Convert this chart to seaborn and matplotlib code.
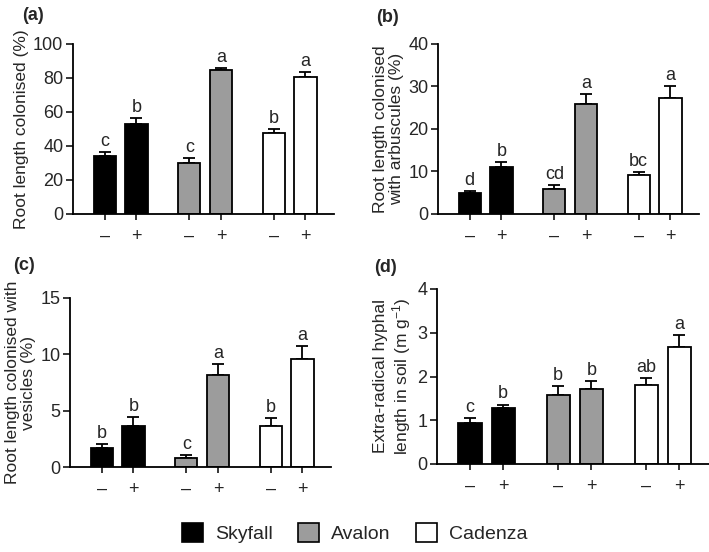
import numpy as np
import pandas as pd
import seaborn as sns
from matplotlib import pyplot as plt
from matplotlib.patches import Patch

# %%
# Data (means and upper end of error bar)
cultivars = ["Skyfall", "Skyfall", "Avalon", "Avalon", "Cadenza", "Cadenza"]
positions = [0, 1, 2.67, 3.67, 5.33, 6.33]
amf_labels = ["\u2013", "+", "\u2013", "+", "\u2013", "+"]
palette = {"Skyfall": "black", "Avalon": "#9c9c9c", "Cadenza": "white"}

colonised = [34.3, 52.7, 30.2, 84.5, 47.4, 80.4]
colonised_err = [2.0, 3.9, 2.9, 1.6, 2.6, 2.9]
colonised_sig = ["c", "b", "c", "a", "b", "a"]

arbuscules = [4.9, 11.0, 5.9, 25.9, 9.2, 27.2]
arbuscules_err = [0.6, 1.2, 1.0, 2.3, 0.7, 2.8]
arbuscules_sig = ["d", "b", "cd", "a", "bc", "a"]

vesicles = [1.65, 3.6, 0.8, 8.16, 3.68, 9.55]
vesicles_err = [0.41, 0.85, 0.3, 1.0, 0.68, 1.15]
vesicles_sig = ["b", "b", "c", "a", "b", "a"]

hyphae = [0.94, 1.27, 1.58, 1.72, 1.81, 2.67]
hyphae_err = [0.12, 0.09, 0.2, 0.17, 0.16, 0.27]
hyphae_sig = ["c", "b", "b", "b", "ab", "a"]

panels = [
    ("(a)", colonised, colonised_err, colonised_sig, 100, 20,
     "Root length colonised (%)"),
    ("(b)", arbuscules, arbuscules_err, arbuscules_sig, 40, 10,
     "Root length colonised\nwith arbuscules (%)"),
    ("(c)", vesicles, vesicles_err, vesicles_sig, 15, 5,
     "Root length colonised with\nvesicles (%)"),
    ("(d)", hyphae, hyphae_err, hyphae_sig, 4, 1,
     "Extra-radical hyphal\nlength in soil (m g$^{-1}$)"),
]

# %%
# Figure
sns.set_style("ticks")
plt.rcParams["font.family"] = ["Liberation Sans", "DejaVu Sans"]
plt.rcParams["mathtext.fontset"] = "custom"
plt.rcParams["mathtext.rm"] = "Liberation Sans"
plt.rcParams["mathtext.it"] = "Liberation Sans"

W, H = 709, 552
fig = plt.figure(figsize=(W / 100, H / 100), dpi=100)

# axes boxes in pixels: left, top, right, bottom
boxes = [(73, 44, 334, 214), (438, 44, 699, 214),
         (70, 298, 331, 467), (437, 289, 709, 464)]
label_pos = [(22, 16), (376, 17), (13, 266), (374, 268)]

for (tag, vals, errs, sig, ymax, ystep, ylabel), box, lp in zip(
        panels, boxes, label_pos):
    l, t, r, b = box
    ax = fig.add_axes([l / W, 1 - b / H, (r - l) / W, (b - t) / H])
    df = pd.DataFrame({"pos": positions, "value": vals, "cultivar": cultivars})
    sns.barplot(data=df, x="pos", y="value", hue="cultivar", palette=palette,
                native_scale=True, dodge=False, width=0.7, edgecolor="black",
                linewidth=1.3, legend=False, ax=ax, zorder=2)
    ax.errorbar(positions, vals, yerr=[np.zeros(len(errs)), errs], fmt="none",
                ecolor="black", elinewidth=1.3, capsize=4, capthick=1.3,
                zorder=1)
    for x, v, e, s in zip(positions, vals, errs, sig):
        ax.annotate(s, (x, v + e), xytext=(0, 1.5), textcoords="offset points",
                    ha="center", va="bottom", fontsize=13)
    ax.set_xlim(-1.0, 7.23)
    ax.set_ylim(0, ymax)
    ax.set_yticks(np.arange(0, ymax + ystep / 2, ystep))
    ax.set_xticks(positions)
    ax.set_xticklabels(amf_labels)
    ax.set_xlabel("")
    ax.set_ylabel(ylabel, fontsize=12.5, linespacing=1.1, labelpad=3)
    ax.tick_params(axis="y", labelsize=13, width=1.3, length=5, pad=2)
    ax.tick_params(axis="x", labelsize=13, width=1.3, length=4, pad=6)
    for sp in ["left", "bottom"]:
        ax.spines[sp].set_linewidth(1.3)
        ax.spines[sp].set_color("black")
    sns.despine(ax=ax)
    fig.text(lp[0] / W, 1 - lp[1] / H, tag, fontsize=13, fontweight="bold",
             ha="left", va="center")

handles = [Patch(facecolor=palette[c], edgecolor="black", linewidth=1.2,
                 label=c) for c in ["Skyfall", "Avalon", "Cadenza"]]
fig.legend(handles=handles, loc="center", bbox_to_anchor=(0.5, 1 - 533 / H),
           ncol=3, frameon=False, fontsize=14, handlelength=1.1,
           handleheight=1.1, columnspacing=1.3, handletextpad=0.6)

fig.savefig("out.png", dpi=100)
